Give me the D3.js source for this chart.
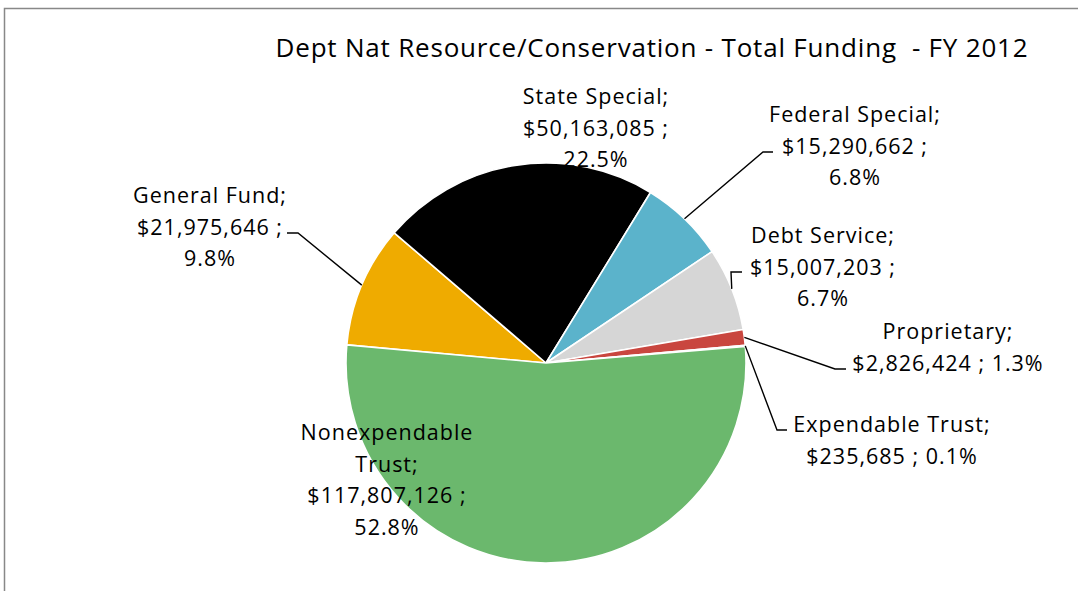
<!DOCTYPE html>
<html>
<head>
<meta charset="utf-8">
<script src="https://cdn.jsdelivr.net/npm/d3@7"></script>
<style>
  html, body { margin: 0; padding: 0; background: #fff; }
  svg { display: block; }
  text { font-family: "Open Sans", Lato, sans-serif; fill: #000; white-space: pre; }
</style>
</head>
<body>
<svg id="chart" width="1078" height="591"></svg>
<script>
// Funding sources, in slice order (clockwise)
const categories = [
  "General Fund",
  "State Special",
  "Federal Special",
  "Debt Service",
  "Proprietary",
  "Expendable Trust",
  "Nonexpendable Trust"
];
const amounts = [21975646, 50163085, 15290662, 15007203, 2826424, 235685, 117807126];
const sliceColors = ["#EFAB00", "#000000", "#5BB3CB", "#D6D6D6", "#C9463F", "#2F6FB0", "#6BB86D"];
const title = "Dept Nat Resource/Conservation - Total Funding  - FY 2012";

// Label line breaks per category (how each label wraps)
const labelBreaks = [
  ["name;", "amount ;", "pct"],
  ["name;", "amount ;", "pct"],
  ["name;", "amount ;", "pct"],
  ["name;", "amount ;", "pct"],
  ["name;", "amount ; pct"],
  ["name;", "amount ; pct"],
  ["Nonexpendable", "Trust;", "amount ;", "pct"]
];

// Layout: label centres / first baselines and leader-line elbows
const labelPos = [
  { x: 210, y: 203, elbow: [298, 233], end: [287, 233] },
  { x: 596, y: 104 },
  { x: 855, y: 122, elbow: [763, 152], end: [773, 152] },
  { x: 823, y: 243, elbow: [731, 272], end: [742, 272] },
  { x: 948, y: 339, elbow: [835, 369], end: [846, 369] },
  { x: 892, y: 432, elbow: [777, 430], end: [787, 430] },
  { x: 387, y: 440 }
];
const lineGap = 31.5;

const svg = d3.select("#chart");
const W = 1078, H = 591;
const cx = 546, cy = 363, R = 200;

// Chart frame
svg.append("rect")
  .attr("x", 4.5).attr("y", 8.5)
  .attr("width", W + 10).attr("height", H + 10)
  .attr("fill", "#fff").attr("stroke", "#888").attr("stroke-width", 1.5);

svg.append("text")
  .attr("x", 652).attr("y", 57)
  .attr("text-anchor", "middle")
  .attr("font-size", 26)
  .attr("letter-spacing", 0.8)
  .text(title);

const total = d3.sum(amounts);
const data = categories.map((c, i) => ({ name: c, value: amounts[i], i }));

const startDeg = 275.2;
const pie = d3.pie()
  .value(d => d.value)
  .sort(null)
  .startAngle(startDeg * Math.PI / 180)
  .endAngle((startDeg + 360) * Math.PI / 180);

const arc = d3.arc().innerRadius(0).outerRadius(R);
const arcs = pie(data);

const g = svg.append("g").attr("transform", `translate(${cx},${cy})`);
g.selectAll("path.slice")
  .data(arcs)
  .join("path")
  .attr("class", "slice")
  .attr("d", arc)
  .attr("fill", d => sliceColors[d.data.i])
  .attr("stroke", "#fff")
  .attr("stroke-width", 1.6)
  .attr("stroke-linejoin", "round");

// Leader lines from the slice edge to the label
const fmtMoney = v => "$" + d3.format(",")(v);
const fmtPct = v => d3.format(".1%")(v / total);

arcs.forEach(a => {
  const p = labelPos[a.data.i];
  if (!p.elbow) return;
  const mid = (a.startAngle + a.endAngle) / 2;
  const sx = cx + R * Math.sin(mid), sy = cy - R * Math.cos(mid);
  svg.append("polyline")
    .attr("points", [[sx, sy], p.elbow, p.end].map(q => q.join(",")).join(" "))
    .attr("fill", "none")
    .attr("stroke", "#000")
    .attr("stroke-width", 1.4);
});

// Data labels
arcs.forEach(a => {
  const d = a.data;
  const p = labelPos[d.i];
  const lines = labelBreaks[d.i].map(s =>
    s.replace("name", d.name).replace("amount", fmtMoney(d.value)).replace("pct", fmtPct(d.value)));
  const t = svg.append("text")
    .attr("text-anchor", "middle")
    .attr("font-size", 21.5)
    .attr("letter-spacing", 1);
  lines.forEach((ln, k) => {
    t.append("tspan").attr("x", p.x).attr("y", p.y + k * lineGap).text(ln);
  });
});
</script>
</body>
</html>
